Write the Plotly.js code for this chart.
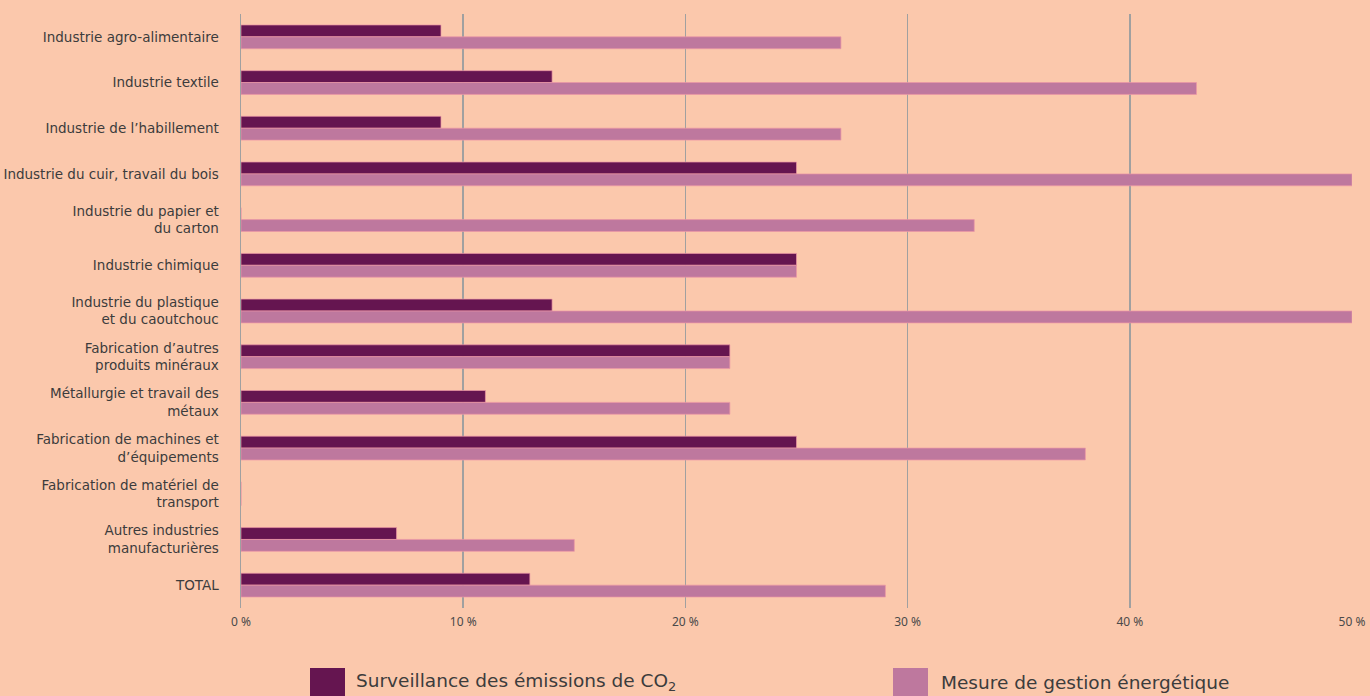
<!DOCTYPE html>
<html>
<head>
<meta charset="utf-8">
<script src="https://cdn.plot.ly/plotly-3.0.1.min.js"></script>
<style>
  html, body { margin: 0; padding: 0; background: #FBC8AC; }
  #chart { width: 1370px; height: 696px; }
</style>
</head>
<body>
<div id="chart"></div>
<script>
const categories = [
  "Industrie agro-alimentaire",
  "Industrie textile",
  "Industrie de l’habillement",
  "Industrie du cuir, travail du bois",
  "Industrie du papier et<br>du carton",
  "Industrie chimique",
  "Industrie du plastique<br>et du caoutchouc",
  "Fabrication d’autres<br>produits minéraux",
  "Métallurgie et travail des<br>métaux",
  "Fabrication de machines et<br>d’équipements",
  "Fabrication de matériel de<br>transport",
  "Autres industries<br>manufacturières",
  "TOTAL"
];
const co2Values    = [9, 14, 9, 25, 0, 25, 14, 22, 11, 25, 0, 7, 13];
const energyValues = [27, 43, 27, 50, 33, 25, 50, 22, 22, 38, 0, 15, 29];
const seriesNames = ["Surveillance des émissions de CO<sub>2</sub>", "Mesure de gestion énergétique"];
const tickValues = [0, 10, 20, 30, 40, 50];
const tickLabels = ["0 %", "10 %", "20 %", "30 %", "40 %", "50 %"];

const BG = "#FBC8AC";
const C1 = "#651550";
const C2 = "#BE789E";
const GRID = "#A0A0A0";
const FONT = "DejaVu Sans, Noto Sans, sans-serif";

const W = 1370, H = 696;
const L = 241, R = 18, T = 14, B = 88;
const pw = W - L - R, ph = H - T - B;
const px = x => (x - L) / pw;
const py = y => (H - B - y) / ph;

const traces = [
  {type: "bar", orientation: "h", name: seriesNames[0], y: categories, x: co2Values,
   marker: {color: C1, line: {color: "rgba(235,150,165,0.7)", width: 1}}, hoverinfo: "x+y"},
  {type: "bar", orientation: "h", name: seriesNames[1], y: categories, x: energyValues,
   marker: {color: C2, line: {color: "rgba(235,150,165,0.7)", width: 1}}, hoverinfo: "x+y"}
];

const layout = {
  width: W, height: H,
  paper_bgcolor: BG, plot_bgcolor: BG,
  margin: {l: L, r: R, t: T, b: B},
  barmode: "group", bargap: 0.48, bargroupgap: 0,
  showlegend: false,
  font: {family: FONT, color: "#3C3C3C"},
  xaxis: {
    range: [0, 50], tickvals: tickValues, ticktext: tickLabels,
    showgrid: true, gridcolor: GRID, gridwidth: 1.5,
    zeroline: false, showline: false, ticks: "",
    tickfont: {size: 12, color: "#4A4A4A", family: "Noto Sans, sans-serif"}, ticklabelstandoff: 5,
    fixedrange: true
  },
  yaxis: {
    type: "category", autorange: "reversed",
    showline: true, linecolor: GRID, linewidth: 1.5,
    showgrid: false, zeroline: false, ticks: "",
    tickfont: {size: 13.5, color: "#3C3C3C"}, ticklabelstandoff: 18,
    fixedrange: true
  },
  shapes: [
    {type: "rect", xref: "paper", yref: "paper", x0: px(310), x1: px(345), y0: py(668), y1: py(700), fillcolor: C1, line: {width: 0}},
    {type: "rect", xref: "paper", yref: "paper", x0: px(893), x1: px(928), y0: py(668), y1: py(700), fillcolor: C2, line: {width: 0}}
  ],
  annotations: [
    {xref: "paper", yref: "paper", x: px(354), y: py(682), xanchor: "left", yanchor: "middle", showarrow: false,
     text: seriesNames[0], font: {size: 18.5, color: "#3C3C3C", family: FONT}},
    {xref: "paper", yref: "paper", x: px(939), y: py(682), xanchor: "left", yanchor: "middle", showarrow: false,
     text: seriesNames[1], font: {size: 18.5, color: "#3C3C3C", family: FONT}}
  ]
};

Plotly.newPlot("chart", traces, layout, {displayModeBar: false, staticPlot: true});
</script>
</body>
</html>
